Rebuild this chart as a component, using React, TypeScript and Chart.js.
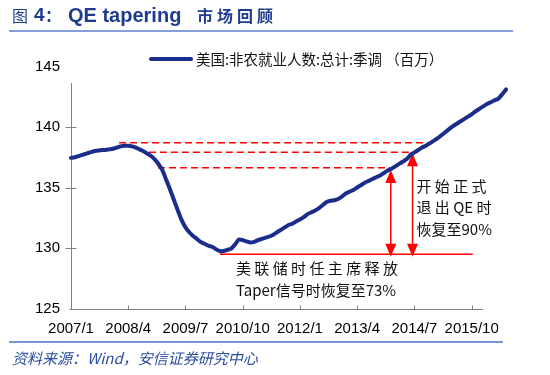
import React, { useEffect, useRef } from "react";
import { Chart, registerables } from "chart.js";

Chart.register(...registerables);

// ---------- data ----------
const CATEGORIES: string[] = [];
for (let y = 2007; y <= 2016; y++) {
  for (let m = 1; m <= 12; m++) {
    if (CATEGORIES.length < 115) CATEGORIES.push(`${y}/${m}`);
  }
}

const TICK_LABELS = ["2007/1", "2008/4", "2009/7", "2010/10", "2012/1", "2013/4", "2014/7", "2015/10"];

const PAYROLLS = [
  137.45, 137.5, 137.6, 137.7, 137.8, 137.9, 138.0, 138.05, 138.1, 138.1,
  138.15, 138.2, 138.3, 138.4, 138.45, 138.45, 138.4, 138.3, 138.15, 138.0,
  137.8, 137.6, 137.3, 136.9, 136.4, 135.6, 134.8, 133.95, 133.1, 132.3,
  131.7, 131.3, 131.0, 130.75, 130.5, 130.35, 130.2, 130.1, 129.9, 129.75,
  129.75, 129.85, 129.95, 130.3, 130.7, 130.65, 130.55, 130.45, 130.5, 130.65,
  130.75, 130.85, 130.95, 131.1, 131.3, 131.5, 131.7, 131.9, 132.0, 132.2,
  132.35, 132.55, 132.8, 132.95, 133.1, 133.3, 133.55, 133.8, 133.9, 133.95,
  134.05, 134.25, 134.5, 134.65, 134.8, 135.0, 135.2, 135.4, 135.55, 135.7,
  135.85, 136.0, 136.2, 136.4, 136.55, 136.75, 136.95, 137.15, 137.35, 137.7,
  137.9, 138.1, 138.3, 138.45, 138.65, 138.85, 139.05, 139.3, 139.55, 139.8,
  140.05, 140.25, 140.45, 140.65, 140.85, 141.05, 141.3, 141.5, 141.7, 141.9,
  142.05, 142.2, 142.35, 142.7, 143.1,
];

const Y_MIN = 125;
const Y_MAX = 145;
const Y_STEP = 5;

const SERIES_NAME = "美国:非农就业人数:总计:季调 （百万）";
const SOURCE_TEXT = "资料来源：Wind，安信证券研究中心";

// annotation levels (value) with category-index extents
const DASHED_LEVELS = [
  { value: 138.7, from: 12.6, to: 94.9 },
  { value: 137.91, from: 20.4, to: 89.4 },
  { value: 136.64, from: 22.8, to: 83.6 },
];
const TROUGH_LEVEL = { value: 129.48, from: 39, to: 105.3 };
const ARROWS = [
  { at: 83.8, top: 136.45, bottom: 129.28 },
  { at: 89.5, top: 137.83, bottom: 129.28 },
];
const NOTE_QE = ["开 始 正 式", "退 出 QE 时", "恢复至90%"];
const NOTE_TAPER = ["美 联 储 时 任 主 席 释 放", "Taper信号时恢复至73%"];
const AXIS_END_INDEX = 108;

// ---------- styles ----------
const LINE_COLOR = "#1b2d8a";
const RED = "#ff0000";
const AXIS_COLOR = "#808080";
const TITLE_COLOR = "#1d3c8f";
const LATIN = "'Liberation Sans', Arial, sans-serif";
const CJK = "'Noto Sans CJK SC', 'Noto Sans', sans-serif";

const customPlugin = {
  id: "custom",
  beforeDraw(chart: any) {
    const ctx = chart.ctx;
    ctx.save();
    ctx.fillStyle = "#ffffff";
    ctx.fillRect(0, 0, chart.width, chart.height);
    ctx.restore();
  },
  beforeDatasetsDraw(chart: any) {
    const ctx = chart.ctx;
    const xs = chart.scales.x;
    const ys = chart.scales.y;
    const area = chart.chartArea;
    ctx.save();

    // axes
    ctx.strokeStyle = AXIS_COLOR;
    ctx.lineWidth = 1;
    const ax = Math.round(area.left) + 0.5;
    const ay = Math.round(area.bottom) + 0.5;
    ctx.beginPath();
    ctx.moveTo(ax, 83);
    ctx.lineTo(ax, ay);
    ctx.stroke();
    ctx.beginPath();
    ctx.moveTo(ax - 2, ay);
    ctx.lineTo(xs.getPixelForValue(AXIS_END_INDEX), ay);
    ctx.stroke();
    // y ticks (cross)
    for (let v = Y_MIN + Y_STEP; v < Y_MAX; v += Y_STEP) {
      const py = Math.round(ys.getPixelForValue(v)) + 0.5;
      ctx.beginPath();
      ctx.moveTo(ax - 6, py);
      ctx.lineTo(ax + 5, py);
      ctx.stroke();
    }
    // x ticks (inside)
    CATEGORIES.forEach((c, i) => {
      if (i > 0 && TICK_LABELS.includes(c)) {
        const px = Math.round(xs.getPixelForValue(i)) + 0.5;
        ctx.beginPath();
        ctx.moveTo(px, ay);
        ctx.lineTo(px, ay - 4);
        ctx.stroke();
      }
    });

    // dashed levels
    ctx.strokeStyle = RED;
    ctx.lineWidth = 1.5;
    ctx.setLineDash([7, 4]);
    DASHED_LEVELS.forEach((d) => {
      const py = ys.getPixelForValue(d.value);
      ctx.beginPath();
      ctx.moveTo(xs.getPixelForValue(d.from), py);
      ctx.lineTo(xs.getPixelForValue(d.to), py);
      ctx.stroke();
    });
    ctx.setLineDash([]);
    // trough level
    {
      const py = ys.getPixelForValue(TROUGH_LEVEL.value);
      ctx.beginPath();
      ctx.moveTo(xs.getPixelForValue(TROUGH_LEVEL.from), py);
      ctx.lineTo(xs.getPixelForValue(TROUGH_LEVEL.to), py);
      ctx.stroke();
    }
    // arrows
    ctx.fillStyle = RED;
    ARROWS.forEach((a) => {
      const px = xs.getPixelForValue(a.at);
      const t = ys.getPixelForValue(a.top);
      const b = ys.getPixelForValue(a.bottom);
      const hh = 13;
      const hw = 5.5;
      ctx.beginPath();
      ctx.moveTo(px, t + hh - 1);
      ctx.lineTo(px, b - hh + 1);
      ctx.stroke();
      ctx.beginPath();
      ctx.moveTo(px, t);
      ctx.lineTo(px - hw, t + hh);
      ctx.lineTo(px + hw, t + hh);
      ctx.closePath();
      ctx.fill();
      ctx.beginPath();
      ctx.moveTo(px, b);
      ctx.lineTo(px - hw, b - hh);
      ctx.lineTo(px + hw, b - hh);
      ctx.closePath();
      ctx.fill();
    });
    ctx.restore();
  },
  afterDraw(chart: any) {
    const ctx = chart.ctx;
    const xs = chart.scales.x;
    ctx.save();
    ctx.textBaseline = "middle";
    ctx.textAlign = "left";

    // title
    ctx.fillStyle = TITLE_COLOR;
    ctx.font = `16px ${CJK}`;
    ctx.fillText("图", 12, 16);
    ctx.font = `bold 19px ${LATIN}`;
    ctx.fillText("4", 34, 16);
    ctx.font = `bold 16px ${CJK}`;
    ctx.fillText("：", 45, 16);
    ctx.font = `bold 20px ${LATIN}`;
    ctx.fillText("QE tapering", 68, 16);
    ctx.font = `bold 16px ${CJK}`;
    let tx = 197;
    for (const ch of "市场回顾") {
      ctx.fillText(ch, tx, 16);
      tx += ctx.measureText(ch).width + 4;
    }
    ctx.strokeStyle = "#5b7fd0";
    ctx.lineWidth = 1.5;
    ctx.beginPath();
    ctx.moveTo(9, 31);
    ctx.lineTo(513, 31);
    ctx.stroke();

    // legend
    ctx.strokeStyle = LINE_COLOR;
    ctx.lineWidth = 4;
    ctx.lineCap = "round";
    ctx.beginPath();
    ctx.moveTo(151, 59);
    ctx.lineTo(191, 59);
    ctx.stroke();
    ctx.lineCap = "butt";
    ctx.fillStyle = "#111111";
    ctx.font = `14.5px ${CJK}`;
    ctx.fillText(SERIES_NAME, 196, 59);

    // annotation notes
    ctx.font = `15px ${CJK}`;
    ctx.fillStyle = "#111111";
    const qx = xs.getPixelForValue(ARROWS[1].at) + 4;
    [186, 207, 229].forEach((py, i) => ctx.fillText(NOTE_QE[i], qx, py));
    [268, 290].forEach((py, i) => ctx.fillText(NOTE_TAPER[i], 236, py));

    // footer
    ctx.strokeStyle = "#4a72c4";
    ctx.lineWidth = 1.5;
    ctx.beginPath();
    ctx.moveTo(9, 342);
    ctx.lineTo(503, 342);
    ctx.stroke();
    ctx.fillStyle = "#2b4ea0";
    ctx.font = `italic 15px ${CJK}`;
    ctx.fillText(SOURCE_TEXT, 12, 358);

    ctx.restore();
  },
};

export default function App() {
  const canvasRef = useRef<HTMLCanvasElement | null>(null);

  useEffect(() => {
    if (!canvasRef.current) return;
    const chart = new Chart(canvasRef.current, {
      type: "line",
      data: {
        labels: CATEGORIES,
        datasets: [
          {
            label: SERIES_NAME,
            data: PAYROLLS,
            borderColor: LINE_COLOR,
            borderWidth: 4,
            pointRadius: 0,
            tension: 0.2,
            fill: false,
            borderCapStyle: "round",
            borderJoinStyle: "round",
          },
        ],
      },
      options: {
        animation: false,
        responsive: false,
        devicePixelRatio: 1,
        layout: { padding: { left: 0, right: 44, top: 66.5, bottom: 36.5 } },
        plugins: {
          legend: { display: false },
          title: { display: false },
          tooltip: { enabled: false },
        },
        scales: {
          x: {
            type: "category",
            offset: false,
            grid: { display: false, drawTicks: false },
            border: { display: false },
            afterFit: (s: any) => {
              s.height = 30;
            },
            ticks: {
              autoSkip: false,
              maxRotation: 0,
              minRotation: 0,
              padding: 11,
              color: "#000000",
              font: { family: LATIN, size: 15 },
              callback: (_v: any, i: number) =>
                TICK_LABELS.includes(CATEGORIES[i]) ? CATEGORIES[i] : "",
            },
          },
          y: {
            min: Y_MIN,
            max: Y_MAX,
            grid: { display: false, drawTicks: false },
            border: { display: false },
            afterFit: (s: any) => {
              s.width = 71;
            },
            ticks: {
              stepSize: Y_STEP,
              padding: 11,
              color: "#000000",
              font: { family: LATIN, size: 15 },
            },
          },
        },
      },
      plugins: [customPlugin],
    } as any);
    return () => chart.destroy();
  }, []);

  return (
    <div style={{ position: "absolute", left: 0, top: 0, width: 550, height: 375, background: "#fff" }}>
      <canvas ref={canvasRef} width={550} height={375} style={{ width: 550, height: 375, display: "block" }} />
    </div>
  );
}
